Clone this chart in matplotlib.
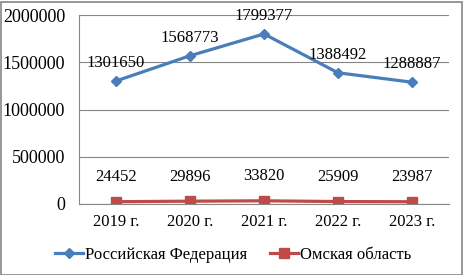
import matplotlib
matplotlib.use("Agg")
import matplotlib.pyplot as plt
from matplotlib.patches import Rectangle

years = ["2019 г.", "2020 г.", "2021 г.", "2022 г.", "2023 г."]
rf = [1301650, 1568773, 1799377, 1388492, 1288887]
omsk = [24452, 29896, 33820, 25909, 23987]
yticks = [0, 500000, 1000000, 1500000, 2000000]

plt.rcParams['font.family'] = ['Liberation Serif', 'DejaVu Serif']
plt.rcParams['font.size'] = 12

W, H = 464, 275
fig = plt.figure(figsize=(W/100, H/100), dpi=100)
ax = fig.add_axes([79/W, 1 - 204/H, 370/W, (204-15)/H])

x = list(range(len(years)))
blue = '#4A7EBB'
red = '#BE4B48'
ax.plot(x, rf, color=blue, lw=2.3, marker='D', ms=5, label='Российская Федерация')
ax.plot(x, omsk, color=red, lw=2.3, marker='s', ms=6.5, label='Омская область')

for xi, v in zip(x, rf):
    ax.annotate(str(v), (xi, v), xytext=(0, 7), textcoords='offset points',
                ha='center', va='bottom', fontsize=12)
for xi, v in zip(x, omsk):
    ax.annotate(str(v), (xi, v), xytext=(0, 12), textcoords='offset points',
                ha='center', va='bottom', fontsize=12)

ax.set_xlim(-0.5, len(years) - 0.5)
ax.set_ylim(0, 2000000)
ax.set_yticks(yticks)
ax.set_yticklabels([str(t) for t in yticks], fontsize=13)
ax.set_xticks(x)
ax.set_xticklabels(years, fontsize=12)
ax.grid(axis='y', color='#868686', lw=0.8)
ax.set_axisbelow(True)
for s in ['top', 'right']:
    ax.spines[s].set_visible(False)
ax.spines['left'].set_color('#868686')
ax.spines['bottom'].set_color('#868686')
ax.tick_params(axis='x', length=0, pad=7)
ax.tick_params(axis='y', length=0, pad=10)

fig.legend(loc='center', bbox_to_anchor=(233/W, 1 - 255/H), ncol=2, frameon=False,
           handlelength=1.7, columnspacing=1.4, handletextpad=0.1, fontsize=12)

fig.patches.append(Rectangle((0.5/W, 0.5/H), 1 - 2/W, 1 - 2/H, transform=fig.transFigure,
                             fill=False, edgecolor='#868686', lw=1.2))

fig.savefig('out.png', dpi=100)
